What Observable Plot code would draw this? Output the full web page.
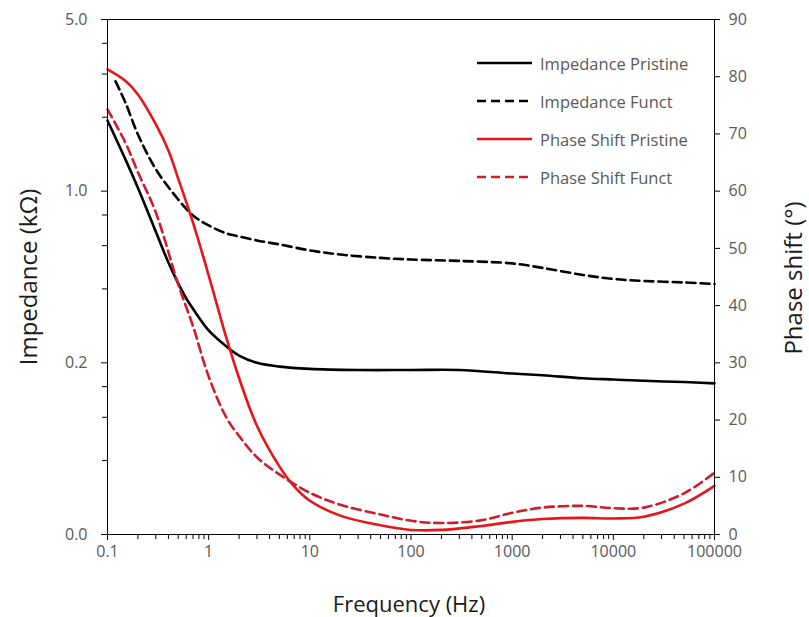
<!DOCTYPE html>
<html>
<head>
<meta charset="utf-8">
<script src="https://cdn.jsdelivr.net/npm/d3@7"></script>
<script src="https://cdn.jsdelivr.net/npm/@observablehq/plot@0.6"></script>
<style>
  html, body { margin: 0; padding: 0; background: #fff; }
  #wrap { position: relative; width: 809px; height: 617px; font-family: "Open Sans", sans-serif; }
  #legend { position: absolute; left: 476px; top: 44px; }
  .row { display: flex; align-items: center; height: 38px; }
  .row span { margin-left: 7px; font-size: 16.5px; color: #595959; white-space: nowrap; }
  .title { position: absolute; white-space: nowrap; color: #1a1a1a; line-height: 1; transform: translate(-50%, -50%); }
  .title.rot { transform: translate(-50%, -50%) rotate(-90deg); }
</style>
</head>
<body>
<div id="wrap"></div>
<script>
// ---- Data ----
const freqImpPristine = [0.1, 0.15, 0.2, 0.3, 0.4, 0.5, 0.6, 0.7, 0.8, 1, 1.5, 2, 3, 5, 10, 30, 100, 300, 1000, 2000, 5000, 10000, 20000, 50000, 100000];
const impPristine     = [1.94, 1.35, 1.03, 0.685, 0.512, 0.421, 0.366, 0.332, 0.306, 0.271, 0.233, 0.214, 0.200, 0.193, 0.189, 0.187, 0.187, 0.187, 0.181, 0.178, 0.173, 0.171, 0.169, 0.167, 0.165];

const freqImpFunct = [0.12, 0.15, 0.2, 0.3, 0.5, 0.7, 1, 1.5, 2, 3, 5, 10, 20, 50, 100, 300, 1000, 2000, 5000, 10000, 20000, 50000, 100000];
const impFunct     = [2.80, 2.30, 1.70, 1.23, 0.925, 0.796, 0.725, 0.673, 0.654, 0.630, 0.607, 0.574, 0.552, 0.535, 0.527, 0.520, 0.508, 0.487, 0.456, 0.439, 0.431, 0.425, 0.419];

const freqPhasePristine = [0.1, 0.15, 0.2, 0.3, 0.4, 0.5, 0.7, 1, 1.5, 2, 3, 5, 7, 10, 20, 50, 100, 200, 500, 1000, 2000, 5000, 10000, 20000, 50000, 100000];
const phasePristine     = [81.3, 79.3, 76.9, 71.7, 67.1, 62.2, 54.5, 45.3, 34.3, 27.3, 19.0, 11.9, 8.4, 5.9, 3.3, 1.6, 0.8, 0.8, 1.5, 2.2, 2.7, 2.9, 2.8, 3.1, 5.4, 8.5];

const freqPhaseFunct = [0.1, 0.15, 0.2, 0.3, 0.5, 0.7, 1, 1.5, 2, 3, 5, 10, 20, 50, 100, 200, 500, 1000, 2000, 5000, 10000, 20000, 50000, 100000];
const phaseFunct     = [74.3, 68.5, 63.3, 56.3, 43.7, 36.4, 27.6, 20.4, 17.2, 13.5, 10.5, 7.3, 5.2, 3.5, 2.4, 2.0, 2.5, 3.8, 4.7, 5.0, 4.6, 4.7, 7.2, 10.8];

// ---- Ticks ----
const xTicks      = [0.1, 1, 10, 100, 1000, 10000, 100000];
const xTickLabels = ["0.1", "1", "10", "100", "1000", "10000", "100000"];
const yTicks      = [0.04, 0.2, 1, 5];
const yTickLabels = ["0.0", "0.2", "1.0", "5.0"];
const yMinorTicks = [0.08, 0.12, 0.16, 0.4, 0.6, 0.8, 2, 3, 4];
const phaseTicks  = [0, 10, 20, 30, 40, 50, 60, 70, 80, 90];

const seriesNames = ["Impedance Pristine", "Impedance Funct", "Phase Shift Pristine", "Phase Shift Funct"];
const seriesColors = ["#000000", "#000000", "#e8141b", "#d01c2a"];
const seriesDash = [null, "9,5", null, "9,5"];

// ---- Secondary (phase) axis mapping onto the impedance log scale ----
const Z0 = 0.04, Z1 = 5;
const phaseToZ = p => Z0 * Math.pow(Z1 / Z0, p / 90);
const zToPhase = z => 90 * Math.log(z / Z0) / Math.log(Z1 / Z0);

const xMinorTicks = [];
for (let d = 0.1; d < 100000; d *= 10) for (let k = 2; k <= 9; k++) xMinorTicks.push(+(d * k).toPrecision(6));

const rows = [];
freqImpPristine.forEach((f, i) => rows.push({s: 0, f, v: impPristine[i]}));
freqImpFunct.forEach((f, i) => rows.push({s: 1, f, v: impFunct[i]}));
freqPhasePristine.forEach((f, i) => rows.push({s: 2, f, v: phaseToZ(phasePristine[i])}));
freqPhaseFunct.forEach((f, i) => rows.push({s: 3, f, v: phaseToZ(phaseFunct[i])}));

const lineMarks = [0, 1, 2, 3].map(s => Plot.line(rows.filter(r => r.s === s), {
  x: "f", y: "v", stroke: seriesColors[s], strokeWidth: 2.6,
  strokeDasharray: seriesDash[s] || undefined, curve: "catmull-rom"
}));

const chart = Plot.plot({
  width: 809, height: 617,
  marginLeft: 107, marginRight: 95, marginTop: 19, marginBottom: 83,
  style: {fontFamily: "'Open Sans', sans-serif", fontSize: "16px", color: "#595959", background: "#fff", overflow: "visible"},
  x: {type: "log", domain: [0.1, 100000], label: null},
  y: {type: "log", base: 5, domain: [Z0, Z1], label: null},
  marks: [
    ...lineMarks,
    Plot.frame({stroke: "black", strokeWidth: 1}),
    Plot.axisX(xMinorTicks, {tickSize: 5, tickFormat: () => "", stroke: "black", label: null}),
    Plot.axisX(xTicks, {tickSize: 6, tickPadding: 5, stroke: "black", label: null,
      tickFormat: d => xTickLabels[xTicks.indexOf(d)]}),
    Plot.axisY(yMinorTicks, {anchor: "left", tickSize: 5, tickFormat: () => "", stroke: "black", label: null}),
    Plot.axisY(yTicks, {anchor: "left", tickSize: 6, tickPadding: 14, stroke: "black", label: null,
      tickFormat: d => yTickLabels[yTicks.indexOf(d)]}),
    Plot.axisY(phaseTicks.map(phaseToZ), {anchor: "right", tickSize: 5, tickPadding: 9, stroke: "black", label: null,
      tickFormat: d => String(Math.round(zToPhase(d)))})
  ]
});

const wrap = document.getElementById("wrap");
wrap.appendChild(chart);

// ---- Axis titles ----
function addTitle(text, x, y, size, rotated) {
  const t = document.createElement("div");
  t.className = "title" + (rotated ? " rot" : "");
  t.textContent = text;
  t.style.left = x + "px";
  t.style.top = y + "px";
  t.style.fontSize = size + "px";
  wrap.appendChild(t);
}
addTitle("Frequency (Hz)", 409, 603, 22, false);
addTitle("Impedance (kΩ)", 28, 277, 24, true);
addTitle("Phase shift (°)", 793, 278, 24, true);

// ---- Legend (inside the plot area, top right) ----
const legend = document.createElement("div");
legend.id = "legend";
seriesNames.forEach((name, i) => {
  const row = document.createElement("div");
  row.className = "row";
  const dash = seriesDash[i] ? ` stroke-dasharray="${seriesDash[i]}"` : "";
  row.innerHTML = `<svg width="57" height="10"><line x1="1" y1="5" x2="56" y2="5" stroke="${seriesColors[i]}" stroke-width="2.6"${dash}/></svg><span>${name}</span>`;
  legend.appendChild(row);
});
wrap.appendChild(legend);
</script>
</body>
</html>
